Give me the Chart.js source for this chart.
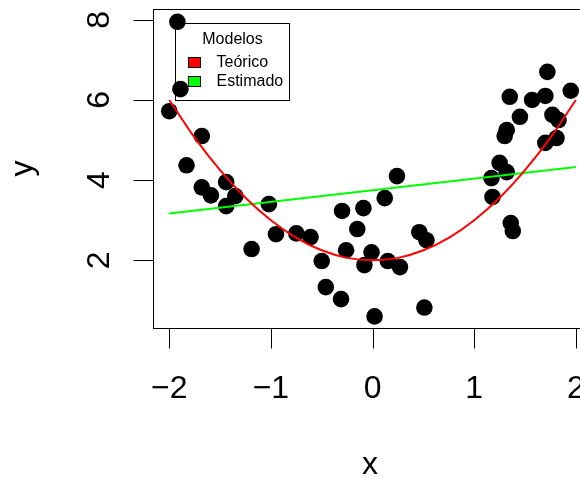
<!DOCTYPE html>
<html>
<head>
<meta charset="utf-8">
<script src="https://cdn.jsdelivr.net/npm/chart.js@4.4.0/dist/chart.umd.min.js"></script>
<style>
  html, body { margin: 0; padding: 0; background: #fff; overflow: hidden; }
  #graph1 { display: block; }
</style>
</head>
<body>
<canvas id="graph1" width="600" height="477"></canvas>
<script>
// observed points
const pointsX = [-2.00, -1.92, -1.89, -1.83, -1.68, -1.68, -1.59, -1.44, -1.35, -1.44,
  -1.02, -1.19, -0.95, -0.75, -0.61, -0.30, -0.09, -0.15, 0.12, 0.24,
  -0.26, -0.50, -0.46, -0.31, -0.08, -0.01, 0.15, 0.27, 0.02, 0.46,
  0.53, 0.51, 1.17, 1.25, 1.32, 1.18, 1.36, 1.38, 1.30, 1.32,
  1.35, 1.45, 1.57, 1.70, 1.72, 1.77, 1.83, 1.70, 1.81, 1.95];
const pointsY = [5.72, 7.95, 6.27, 4.37, 5.10, 3.82, 3.62, 3.95, 3.60, 3.35,
  3.40, 2.28, 2.65, 2.67, 2.58, 3.23, 3.30, 2.78, 3.55, 4.10,
  2.25, 1.98, 1.33, 1.03, 1.88, 2.20, 1.98, 1.83, 0.60, 2.70,
  2.50, 0.82, 4.05, 4.43, 4.20, 3.58, 2.93, 2.73, 5.10, 5.25,
  6.08, 5.58, 6.00, 6.10, 6.70, 5.63, 5.50, 4.93, 5.05, 6.23];

// theoretical curve (red)
const teoX = [-2, -1.75, -1.5, -1.25, -1, -0.75, -0.5, -0.25, 0, 0.25, 0.5, 0.75, 1, 1.25, 1.5, 1.75, 2];
const teoY = [6.0, 5.06, 4.25, 3.56, 3.0, 2.56, 2.25, 2.06, 2.0, 2.06, 2.25, 2.56, 3.0, 3.56, 4.25, 5.06, 6.0];

// estimated line (green)
const estX = [-2, 2];
const estY = [3.17, 4.33];

const xTicks = [-2, -1, 0, 1, 2];
const yTicks = [2, 4, 6, 8];
const xRange = [-2.16, 2.11];
const yRange = [0.31, 8.27];
const legendTitle = 'Modelos';
const legendLabels = ['Teórico', 'Estimado'];
const legendColors = ['#ff0000', '#00ff00'];

const toXY = (xs, ys) => xs.map((x, i) => ({ x: x, y: ys[i] }));
const font = '"Liberation Sans", Arial, sans-serif';

// R style box, axes and legend
const rAxes = {
  id: 'rAxes',
  afterDraw(chart) {
    const c = chart.ctx;
    const a = chart.chartArea;
    const sx = chart.scales.x;
    const sy = chart.scales.y;
    c.save();
    c.strokeStyle = '#000';
    c.fillStyle = '#000';
    c.lineWidth = 1;
    c.strokeRect(Math.round(a.left) + 0.5, Math.round(a.top) + 0.5,
      Math.round(a.right - a.left), Math.round(a.bottom - a.top));

    const bottom = Math.round(a.bottom) + 0.5;
    const left = Math.round(a.left) + 0.5;
    c.font = '32px ' + font;

    // x axis
    c.beginPath();
    c.moveTo(sx.getPixelForValue(xTicks[0]), bottom);
    c.lineTo(sx.getPixelForValue(xTicks[xTicks.length - 1]), bottom);
    xTicks.forEach(v => {
      const px = Math.round(sx.getPixelForValue(v)) + 0.5;
      c.moveTo(px, bottom);
      c.lineTo(px, bottom + 20);
    });
    c.stroke();
    c.textAlign = 'center';
    c.textBaseline = 'alphabetic';
    xTicks.forEach(v => {
      const txt = v < 0 ? '\u2212' + Math.abs(v) : String(v);
      c.fillText(txt, sx.getPixelForValue(v), bottom + 69);
    });
    c.fillText('x', (a.left + a.right) / 2, bottom + 145);

    // y axis
    c.beginPath();
    c.moveTo(left, sy.getPixelForValue(yTicks[0]));
    c.lineTo(left, sy.getPixelForValue(yTicks[yTicks.length - 1]));
    yTicks.forEach(v => {
      const py = Math.round(sy.getPixelForValue(v)) + 0.5;
      c.moveTo(left, py);
      c.lineTo(left - 20, py);
    });
    c.stroke();
    yTicks.forEach(v => {
      c.save();
      c.translate(left - 45, sy.getPixelForValue(v));
      c.rotate(-Math.PI / 2);
      c.fillText(String(v), 0, 0);
      c.restore();
    });
    c.save();
    c.translate(left - 122, (a.top + a.bottom) / 2);
    c.rotate(-Math.PI / 2);
    c.fillText('y', 0, 0);
    c.restore();

    // legend
    const lx = sx.getPixelForValue(-1.945);
    const ly = sy.getPixelForValue(7.92);
    const bx = Math.round(lx) + 0.5, by = Math.round(ly) + 0.5;
    c.strokeRect(bx, by, 114, 77);
    c.font = '16px ' + font;
    c.textBaseline = 'middle';
    c.textAlign = 'center';
    c.fillText(legendTitle, bx + 57, by + 16);
    c.textAlign = 'left';
    legendLabels.forEach((lab, i) => {
      const ry = by + 39 + i * 19;
      c.fillStyle = legendColors[i];
      c.fillRect(bx + 13, ry - 5, 12, 10);
      c.strokeRect(bx + 13, ry - 5, 12, 10);
      c.fillStyle = '#000';
      c.fillText(lab, bx + 41, ry);
    });
    c.restore();
  }
};

const chartData = {
  datasets: [
    {
      label: 'Teórico',
      type: 'line',
      data: toXY(teoX, teoY),
      borderColor: '#ff0000',
      borderWidth: 2,
      pointRadius: 0,
      cubicInterpolationMode: 'monotone',
      fill: false,
      order: 0,
    },
    {
      label: 'Estimado',
      type: 'line',
      data: toXY(estX, estY),
      borderColor: '#00ff00',
      borderWidth: 2,
      pointRadius: 0,
      fill: false,
      order: 0,
    },
    {
      label: 'Datos',
      type: 'scatter',
      data: toXY(pointsX, pointsY),
      backgroundColor: '#000',
      borderWidth: 0,
      pointRadius: 8.3,
      order: 1,
    },
  ],
};

const chartConfig = {
  type: 'scatter',
  data: chartData,
  options: {
    responsive: false,
    animation: false,
    devicePixelRatio: 1,
    layout: { padding: { left: 153, right: 13, top: 9, bottom: 149 } },
    plugins: { legend: { display: false }, tooltip: { enabled: false } },
    scales: {
      x: { type: 'linear', min: xRange[0], max: xRange[1], display: false },
      y: { type: 'linear', min: yRange[0], max: yRange[1], display: false },
    },
  },
  plugins: [rAxes],
};

const graph1 = new Chart(document.getElementById('graph1'), chartConfig);
</script>
</body>
</html>
